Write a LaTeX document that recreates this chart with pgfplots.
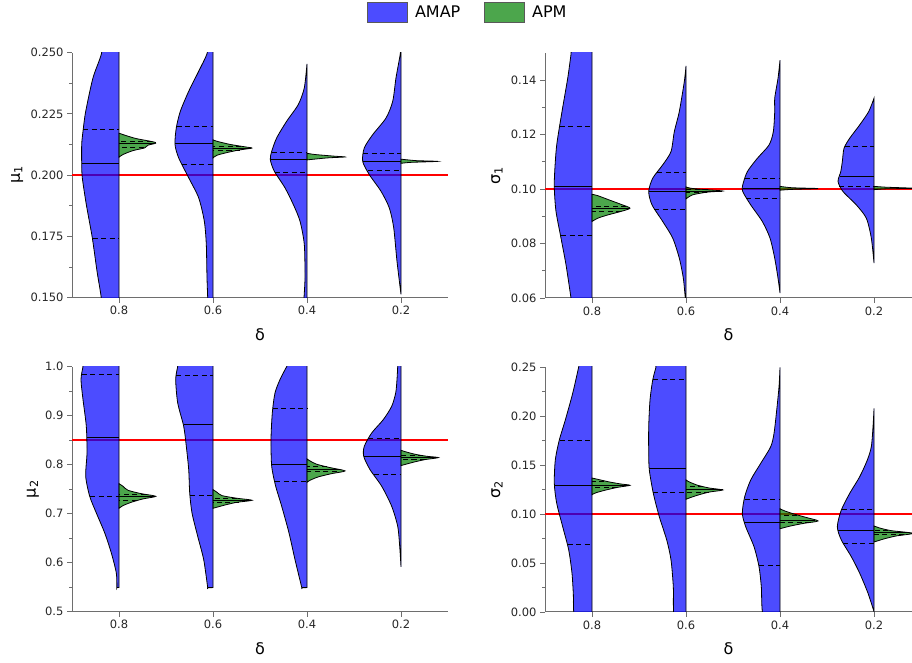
\documentclass[border=0pt]{standalone}
\usepackage{pgfplots}
\pgfplotsset{compat=1.18}
\usepackage{fontspec}
\setmainfont{DejaVu Sans}

\definecolor{axisgray}{RGB}{110,110,110}
\definecolor{amapc}{RGB}{0,0,255}
\definecolor{apmc}{RGB}{0,128,0}
\definecolor{refred}{RGB}{255,0,0}

\pgfplotsset{
  violinax/.style={
    scale only axis, width=376pt, height=245pt,
    xmin=-0.5, xmax=3.5,
    axis x line*=bottom, axis y line*=left,
    axis line style={axisgray, line width=1pt, -},
    tick style={axisgray, line width=0.8pt},
    tick align=outside,
    major tick length=5pt, minor tick length=3pt,
    minor y tick num=1,
    xtick={0,1,2,3}, xticklabels={0.8,0.6,0.4,0.2},
    tick label style={font=\fontsize{11.5}{13}\selectfont, text=black!85},
    /pgf/number format/assume math mode=true,
    scaled y ticks=false,
    xlabel={δ},
    xlabel style={font=\fontsize{16}{18}\selectfont, at={(axis description cs:0.5,0)}, anchor=center, yshift=-37pt},
    ylabel style={font=\fontsize{16}{18}\selectfont, anchor=center},
  },
  amapsty/.style={draw=black, line width=0.8pt, fill=amapc, fill opacity=0.7, smooth, tension=0.45, mark=none},
  apmsty/.style={draw=black, line width=0.8pt, fill=apmc, fill opacity=0.7, smooth, tension=0.45, mark=none},
  qdash/.style={black, line width=0.9pt, dash pattern=on 5pt off 3.5pt, mark=none},
  qmed/.style={black, line width=1pt, mark=none},
  refl/.style={color=refred, line width=1.5pt, mark=none},
}

% half violins: #1 = category position, #2 = rows "value width\\" (width in px of the half)
\newcommand{\amap}[2]{\addplot[amapsty] table[x expr={#1-\thisrow{w}/94}, y=y, row sep=\\] {y w\\ #2} -- cycle;}
\newcommand{\apm}[2]{\addplot[apmsty] table[x expr={#1+\thisrow{w}/94}, y=y, row sep=\\] {y w\\ #2} -- cycle;}
\newcommand{\qln}[5]{\addplot[#1] table[x expr={#2#3\thisrow{w}/94}, y=y, row sep=\\] {y w\\ #4 #5\\ #4 0\\};}
% quartile lines: #1 sign, #2 pos, then (value,width) for dashed, solid, dashed
\newcommand{\quart}[8]{\qln{qdash}{#2}{#1}{#3}{#4}\qln{qmed}{#2}{#1}{#5}{#6}\qln{qdash}{#2}{#1}{#7}{#8}}

\begin{document}
\begin{tikzpicture}
\useasboundingbox (0,0) rectangle (912pt,663pt);

% ---------------- mu_1 ----------------
\begin{axis}[violinax, at={(72pt,365.4pt)}, anchor=south west,
  ymin=0.15, ymax=0.25, ytick={0.15,0.175,...,0.251},
  yticklabel style={/pgf/number format/.cd, fixed, fixed zerofill, precision=3},
  ylabel={μ\textsubscript{1}},
  ylabel style={at={(axis description cs:-0.146,0.5)}}]
\addplot[refl] coordinates {(-0.5,0.2) (3.5,0.2)};

\amap{0}{0.135 0\\ 0.140 15.5\\ 0.1499 17.7\\ 0.1608 22\\ 0.1744 26.7\\ 0.1880 32.7\\ 0.1989 36.7\\ 0.2043 37.3\\ 0.2125 37.3\\ 0.2179 36\\ 0.2260 33.3\\ 0.2397 26\\ 0.2495 17.6\\ 0.260 14\\ 0.265 0\\}
\quart{-}{0}{0.2185}{35.8}{0.2046}{37.3}{0.1740}{26.5}
\apm{0}{0.2073 0\\ 0.2084 4\\ 0.2100 14\\ 0.2111 25.7\\ 0.2122 29\\ 0.2130 36.7\\ 0.2136 34\\ 0.2149 17.3\\ 0.2163 5.7\\ 0.2171 0\\}
\quart{+}{0}{0.2137}{33}{0.2128}{35}{0.2111}{25}

\amap{1}{0.140 0\\ 0.145 5\\ 0.1499 5.3\\ 0.1581 6\\ 0.1717 6.7\\ 0.1812 8.7\\ 0.1907 14.3\\ 0.1989 24.3\\ 0.2070 34.3\\ 0.2125 38\\ 0.2193 36.7\\ 0.2260 32.7\\ 0.2342 24.3\\ 0.2424 14.3\\ 0.2495 6\\ 0.255 4\\ 0.260 0\\}
\quart{-}{1}{0.2198}{36.5}{0.2127}{38}{0.2043}{31}
\apm{1}{0.2070 0\\ 0.2081 4\\ 0.2092 14\\ 0.2103 27\\ 0.2110 39\\ 0.2114 34\\ 0.2125 17.3\\ 0.2138 4\\ 0.2144 0\\}
\quart{+}{1}{0.2117}{28}{0.2110}{38}{0.2102}{27}

\amap{2}{0.145 0\\ 0.148 3\\ 0.1499 3\\ 0.1581 2\\ 0.1717 2.7\\ 0.1812 7\\ 0.1880 13.7\\ 0.1948 22\\ 0.2016 32.7\\ 0.2063 36.7\\ 0.2097 35.3\\ 0.2152 30.3\\ 0.2220 20.3\\ 0.2288 8.7\\ 0.2356 2.7\\ 0.2454 0\\}
\quart{-}{2}{0.2091}{35.5}{0.2063}{36.7}{0.2012}{32.5}
\apm{2}{0.2062 0\\ 0.2070 20\\ 0.2074 38\\ 0.2077 28\\ 0.2084 8\\ 0.2089 0\\}

\amap{3}{0.1513 0\\ 0.1648 4\\ 0.1785 7.3\\ 0.1866 11.7\\ 0.1934 20\\ 0.2002 31.7\\ 0.2056 38.3\\ 0.2111 36.7\\ 0.2165 28.3\\ 0.2233 15\\ 0.2301 8.3\\ 0.2397 5\\ 0.2495 0.7\\ 0.253 0.5\\ 0.256 0\\}
\quart{-}{3}{0.2087}{37.8}{0.2056}{38.3}{0.2018}{33}
\apm{3}{0.2048 0\\ 0.2052 10\\ 0.2056 36.7\\ 0.2059 15\\ 0.2065 0\\}
\end{axis}

% ---------------- sigma_1 ----------------
\begin{axis}[violinax, at={(545pt,365pt)}, anchor=south west, width=367pt, xmax=3.404,
  ymin=0.06, ymax=0.15, ytick={0.06,0.08,...,0.141},
  yticklabel style={/pgf/number format/.cd, fixed, fixed zerofill, precision=2},
  ylabel={σ\textsubscript{1}},
  ylabel style={at={(axis description cs:-0.131,0.5)}},
  legend style={at={(axis description cs:-0.485,1.208)}, anchor=north west, draw=none, fill=none,
    legend columns=2, font=\fontsize{16}{18}\selectfont, inner sep=0pt,
    /tikz/every even column/.append style={column sep=22pt}},
  legend cell align=left]
\addlegendimage{legend image code/.code={\draw[fill=amapc, fill opacity=0.7, draw=gray!70!black, line width=0.8pt] (0pt,-10pt) rectangle (40pt,10pt);}}
\addlegendentry{\hspace{5pt}AMAP}
\addlegendimage{legend image code/.code={\draw[fill=apmc, fill opacity=0.7, draw=gray!70!black, line width=0.8pt] (0pt,-10pt) rectangle (40pt,10pt);}}
\addlegendentry{\hspace{5pt}APM}
\addplot[refl] coordinates {(-0.5,0.1) (3.5,0.1)};

\amap{0}{0.050 0\\ 0.055 19\\ 0.0600 21\\ 0.0722 26\\ 0.0820 31\\ 0.0918 36\\ 0.1003 37.7\\ 0.1064 37.3\\ 0.1162 35.3\\ 0.1285 30\\ 0.1407 24.3\\ 0.1495 21\\ 0.155 19\\ 0.160 0\\}
\quart{-}{0}{0.1230}{32.5}{0.1010}{37.7}{0.0831}{31}
\apm{0}{0.0881 0\\ 0.0893 5.7\\ 0.0905 15.7\\ 0.0918 29\\ 0.0930 38\\ 0.0944 29\\ 0.0960 17.3\\ 0.0976 5.7\\ 0.0981 0\\}
\quart{+}{0}{0.0936}{34}{0.0930}{38}{0.0918}{29}

\amap{1}{0.059 0\\ 0.0600 0.7\\ 0.0673 2.7\\ 0.0746 6.7\\ 0.0820 13.3\\ 0.0881 23.3\\ 0.0942 34\\ 0.0991 37.3\\ 0.1040 33.3\\ 0.1089 23.3\\ 0.1138 15\\ 0.1211 11.7\\ 0.1285 6.7\\ 0.1395 1.7\\ 0.1453 0\\}
\quart{-}{1}{0.1063}{29}{0.0990}{37.3}{0.0926}{32}
\apm{1}{0.0964 0\\ 0.0979 6.7\\ 0.0989 21.7\\ 0.0993 36.7\\ 0.0998 20\\ 0.1003 5\\ 0.1008 0\\}
\quart{+}{1}{0.0997}{22}{0.0993}{36}{0.0989}{21}

\amap{2}{0.0618 0\\ 0.0673 2\\ 0.0746 5.3\\ 0.0820 10\\ 0.0881 17.7\\ 0.0942 29.3\\ 0.0991 37.3\\ 0.1015 37.3\\ 0.1064 32.7\\ 0.1113 22.7\\ 0.1162 11\\ 0.1211 6.7\\ 0.1285 5.3\\ 0.1334 5.3\\ 0.1407 2\\ 0.1474 0\\}
\quart{-}{2}{0.1040}{35.5}{0.1001}{37.5}{0.0964}{34}
\apm{2}{0.0996 0\\ 0.0999 12\\ 0.1002 38\\ 0.1005 12\\ 0.1010 0\\}

\amap{3}{0.0728 0\\ 0.0820 2.7\\ 0.0893 7.7\\ 0.0942 17.7\\ 0.0991 31\\ 0.1028 36\\ 0.1064 33.3\\ 0.1101 31.7\\ 0.1150 30\\ 0.1187 24.3\\ 0.1236 14.3\\ 0.1285 5.3\\ 0.1334 0\\}
\quart{-}{3}{0.1156}{29.5}{0.1046}{34.5}{0.1010}{35}
\apm{3}{0.0998 0\\ 0.1001 12\\ 0.1003 40\\ 0.1007 12\\ 0.1010 0\\}
\end{axis}

% ---------------- mu_2 ----------------
\begin{axis}[violinax, at={(72pt,51.4pt)}, anchor=south west,
  ymin=0.5, ymax=1.0, ytick={0.5,0.6,...,1.01},
  yticklabel style={/pgf/number format/.cd, fixed, fixed zerofill, precision=1},
  ylabel={μ\textsubscript{2}},
  ylabel style={at={(axis description cs:-0.104,0.5)}}]
\addplot[refl] coordinates {(-0.5,0.85) (3.5,0.85)};

\amap{0}{0.549 0\\ 0.549 2\\ 0.5505 2.1\\ 0.5790 2.7\\ 0.6198 7.7\\ 0.6606 14.3\\ 0.7014 22.7\\ 0.7353 29.3\\ 0.7762 33.3\\ 0.8238 32\\ 0.8782 32.7\\ 0.9327 36\\ 0.9735 38\\ 1.0 36\\ 1.01 35\\ 1.02 0\\}
\quart{-}{0}{0.9844}{37.5}{0.8558}{32.5}{0.7340}{29}
\apm{0}{0.7108 0\\ 0.7163 4\\ 0.7231 12.3\\ 0.7300 24\\ 0.7353 36.7\\ 0.7408 22\\ 0.7476 9\\ 0.7557 4\\ 0.7612 0\\}
\quart{+}{0}{0.7388}{27}{0.7353}{36}{0.7268}{18}

\amap{1}{0.549 0\\ 0.549 5.3\\ 0.5505 5.4\\ 0.6061 9.3\\ 0.6537 15.3\\ 0.7014 21\\ 0.7422 23.3\\ 0.7898 24.3\\ 0.8374 26.7\\ 0.8782 29.3\\ 0.9259 35.3\\ 0.9735 37.3\\ 1.0 35.3\\ 1.01 34\\ 1.02 0\\}
\quart{-}{1}{0.9816}{37}{0.8810}{29.5}{0.7374}{23}
\apm{1}{0.7108 0\\ 0.7177 12.3\\ 0.7231 24\\ 0.7272 39\\ 0.7313 24\\ 0.7367 9\\ 0.7435 4\\ 0.7490 0\\}
\quart{+}{1}{0.7310}{24}{0.7272}{38}{0.7235}{26}

\amap{2}{0.549 0\\ 0.549 5.3\\ 0.5505 5.4\\ 0.6061 12\\ 0.6606 18\\ 0.7149 25.3\\ 0.7558 31.3\\ 0.7966 35.3\\ 0.8510 36\\ 0.9055 34.7\\ 0.9463 32\\ 0.9735 27\\ 1.0 20.3\\ 1.01 17\\ 1.02 0\\}
\quart{-}{2}{0.9136}{34.3}{0.8007}{35.3}{0.7646}{32}
\apm{2}{0.7639 0\\ 0.7680 3\\ 0.7749 11.3\\ 0.7816 24.7\\ 0.7871 38\\ 0.7939 23\\ 0.8007 9.7\\ 0.8075 3\\ 0.8116 0\\}
\quart{+}{2}{0.7953}{20}{0.7898}{33}{0.7851}{30}

\amap{3}{0.5912 0\\ 0.6333 1.3\\ 0.6741 3.3\\ 0.7149 9.3\\ 0.7558 19.3\\ 0.7898 31\\ 0.8170 37.3\\ 0.8374 36.7\\ 0.8646 29.3\\ 0.8918 17.7\\ 0.9190 9.3\\ 0.9463 5.3\\ 0.9735 4\\ 1.0 3.3\\ 1.01 3\\ 1.02 0\\}
\quart{-}{3}{0.8524}{33}{0.8157}{37.3}{0.7790}{27}
\apm{3}{0.7980 0\\ 0.8048 12.3\\ 0.8102 24\\ 0.8143 37.3\\ 0.8170 25.7\\ 0.8211 14\\ 0.8265 4\\ 0.8293 0\\}
\quart{+}{3}{0.8190}{22}{0.8145}{37}{0.8105}{24}
\end{axis}

% ---------------- sigma_2 ----------------
\begin{axis}[violinax, at={(545pt,51pt)}, anchor=south west, width=367pt, xmax=3.404,
  ymin=0, ymax=0.25, ytick={0,0.05,...,0.251},
  yticklabel style={/pgf/number format/.cd, fixed, fixed zerofill, precision=2},
  ylabel={σ\textsubscript{2}},
  ylabel style={at={(axis description cs:-0.131,0.5)}}]
\addplot[refl] coordinates {(-0.5,0.1) (3.5,0.1)};

\amap{0}{-0.01 0\\ -0.005 17\\ 0.0191 18.7\\ 0.0395 20\\ 0.0633 23.3\\ 0.0870 29.3\\ 0.1109 35.3\\ 0.1313 37.7\\ 0.1551 36.7\\ 0.1755 32.7\\ 0.1959 26.7\\ 0.2232 19.3\\ 0.25 13.3\\ 0.255 12\\ 0.26 0\\}
\quart{-}{0}{0.1748}{32.5}{0.1293}{37.7}{0.0691}{24.5}
\apm{0}{0.1197 0\\ 0.1217 4\\ 0.1245 14\\ 0.1272 25.7\\ 0.1293 38\\ 0.1306 29\\ 0.1327 17.3\\ 0.1354 5.7\\ 0.1367 0\\}
\quart{+}{0}{0.1330}{12}{0.1293}{37}{0.1268}{25}

\amap{1}{-0.01 0\\ -0.005 11.7\\ 0.0258 12.7\\ 0.0531 15\\ 0.0735 19.3\\ 0.0972 26.7\\ 0.1211 32.7\\ 0.1449 36.7\\ 0.1619 37.3\\ 0.1891 37.3\\ 0.2163 36\\ 0.2367 33.3\\ 0.25 30\\ 0.255 29\\ 0.26 0\\}
\quart{-}{1}{0.2374}{33}{0.1469}{36.7}{0.1224}{33}
\apm{1}{0.1150 0\\ 0.1170 5\\ 0.1197 13.3\\ 0.1224 23.3\\ 0.1245 36.7\\ 0.1265 23.3\\ 0.1293 11.7\\ 0.1327 3.3\\ 0.1347 0\\}
\quart{+}{1}{0.1280}{17}{0.1245}{36.7}{0.1224}{23}

\amap{2}{-0.01 0\\ -0.005 16.5\\ 0.0258 18.7\\ 0.0462 21\\ 0.0666 26\\ 0.0870 34.3\\ 0.1007 37.7\\ 0.1177 35.3\\ 0.1347 29.3\\ 0.1517 19.3\\ 0.1687 9.3\\ 0.1823 6\\ 0.2061 3.3\\ 0.2299 1\\ 0.2497 0\\}
\quart{-}{2}{0.1150}{35.5}{0.0911}{36}{0.0472}{21}
\apm{2}{0.0850 0\\ 0.0878 10.7\\ 0.0905 24\\ 0.0929 38\\ 0.0966 25.7\\ 0.1000 14\\ 0.1034 4\\ 0.1054 0\\}
\quart{+}{2}{0.0983}{17}{0.0936}{35}{0.0915}{30}

\amap{3}{0.0003 0\\ 0.0191 6\\ 0.0395 14.3\\ 0.0564 22.7\\ 0.0735 32.7\\ 0.0870 36.7\\ 0.1041 32.7\\ 0.1211 24.3\\ 0.1381 14.3\\ 0.1551 6.7\\ 0.1687 2.7\\ 0.1891 1\\ 0.2078 0\\}
\quart{-}{3}{0.1051}{32.5}{0.0830}{36}{0.0704}{31}
\apm{3}{0.0714 0\\ 0.0748 10.7\\ 0.0776 22.3\\ 0.0803 39\\ 0.0830 17.3\\ 0.0857 5.7\\ 0.0878 0\\}
\quart{+}{3}{0.0837}{14}{0.0810}{35}{0.0793}{30}
\end{axis}
\end{tikzpicture}
\end{document}
